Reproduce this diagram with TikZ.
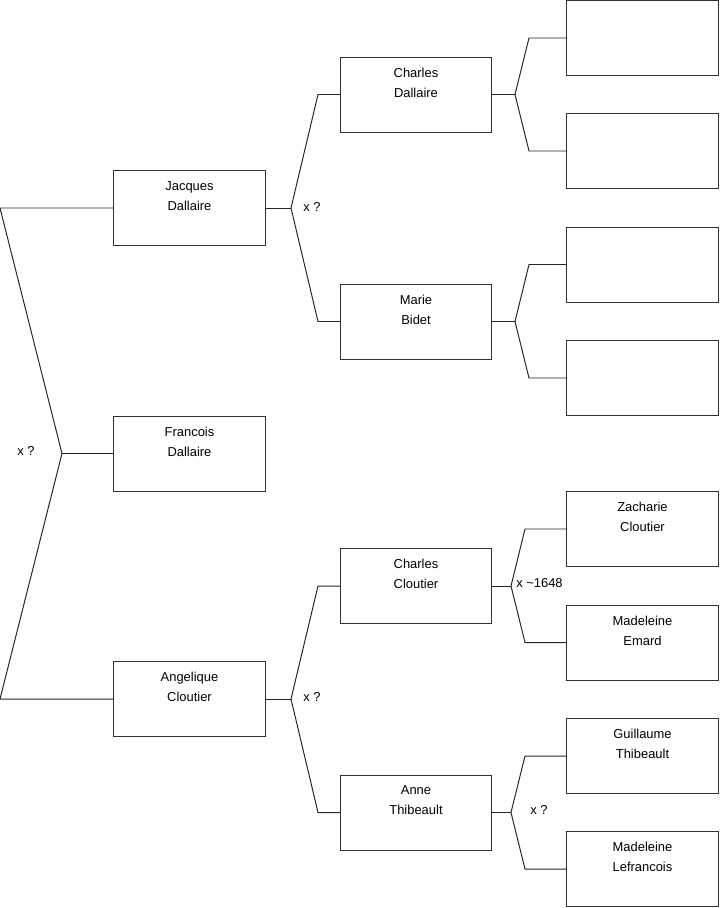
\documentclass[tikz,border=0pt]{standalone}
\usepackage{fontspec}
\setmainfont{Liberation Sans}
\tikzset{
  person/.style={draw=black!80, line width=0.7pt, minimum width=3.775cm, minimum height=1.875cm, inner sep=0pt, outer sep=0pt},
  namelabel/.style={anchor=north, align=center, inner sep=0pt, yshift=-0.265cm, font=\fontsize{9.2}{14.2}\selectfont},
  link/.style={line width=0.7pt, draw=black!85, line join=round},
  marriage/.style={font=\fontsize{9.2}{11}\selectfont, inner sep=0pt},
}
\begin{document}
\begin{tikzpicture}[x=0.025cm, y=-0.025cm]
\useasboundingbox (0,0) rectangle (719,908);
% generation 1
\node[person, label={[namelabel]north:Francois\\Dallaire}] (francois) at (189.5,453.5) {};
% generation 2
\node[person, label={[namelabel]north:Jacques\\Dallaire}] (jacques) at (189.5,208) {};
\node[person, label={[namelabel]north:Angelique\\Cloutier}] (angelique) at (189.5,699) {};
% generation 3
\node[person, label={[namelabel]north:Charles\\Dallaire}] (charlesd) at (416,94.5) {};
\node[person, label={[namelabel]north:Marie\\Bidet}] (marie) at (416,321.5) {};
\node[person, label={[namelabel]north:Charles\\Cloutier}] (charlesc) at (416,586) {};
\node[person, label={[namelabel]north:Anne\\Thibeault}] (anne) at (416,812.5) {};
% generation 4
\node[person] (cd1) at (642.5,38) {};
\node[person] (cd2) at (642.5,151) {};
\node[person] (mb1) at (642.5,264.5) {};
\node[person] (mb2) at (642.5,378) {};
\node[person, label={[namelabel]north:Zacharie\\Cloutier}] (zacharie) at (642.5,529) {};
\node[person, label={[namelabel]north:Madeleine\\Emard}] (emard) at (642.5,642.5) {};
\node[person, label={[namelabel]north:Guillaume\\Thibeault}] (guillaume) at (642.5,756) {};
\node[person, label={[namelabel]north:Madeleine\\Lefrancois}] (lefrancois) at (642.5,869) {};
% junctions
\coordinate (jfr) at (62,453.5);
\coordinate (jfrup) at (0,208);
\coordinate (jfrdn) at (0,699);
\coordinate (jja) at (291,208);
\coordinate (jjaup) at (318,94.5);
\coordinate (jjadn) at (318,321.5);
\coordinate (jan) at (291,699);
\coordinate (janup) at (318,586);
\coordinate (jandn) at (318,812.5);
\coordinate (jcd) at (515,94.5);
\coordinate (jcdup) at (529,38);
\coordinate (jcddn) at (529,151);
\coordinate (jmb) at (515,321.5);
\coordinate (jmbup) at (529,264.5);
\coordinate (jmbdn) at (529,378);
\coordinate (jcc) at (511,586);
\coordinate (jccup) at (525,529);
\coordinate (jccdn) at (525,642.5);
\coordinate (jat) at (511,812.5);
\coordinate (jatup) at (525,756);
\coordinate (jatdn) at (525,869);
% connectors
\draw[link] (francois.west) -- (jfr);
\draw[link] (jfr) -- (jfrup) -- (jacques.west);
\draw[link] (jfr) -- (jfrdn) -- (angelique.west);
\draw[link] (jacques.east) -- (jja);
\draw[link] (jja) -- (jjaup) -- (charlesd.west);
\draw[link] (jja) -- (jjadn) -- (marie.west);
\draw[link] (angelique.east) -- (jan);
\draw[link] (jan) -- (janup) -- (charlesc.west);
\draw[link] (jan) -- (jandn) -- (anne.west);
\draw[link] (charlesd.east) -- (jcd);
\draw[link] (jcd) -- (jcdup) -- (cd1.west);
\draw[link] (jcd) -- (jcddn) -- (cd2.west);
\draw[link] (marie.east) -- (jmb);
\draw[link] (jmb) -- (jmbup) -- (mb1.west);
\draw[link] (jmb) -- (jmbdn) -- (mb2.west);
\draw[link] (charlesc.east) -- (jcc);
\draw[link] (jcc) -- (jccup) -- (zacharie.west);
\draw[link] (jcc) -- (jccdn) -- (emard.west);
\draw[link] (anne.east) -- (jat);
\draw[link] (jat) -- (jatup) -- (guillaume.west);
\draw[link] (jat) -- (jatdn) -- (lefrancois.west);
% marriage notes
\node[marriage] (mfr) at (26,451) {x ?};
\node[marriage] (mja) at (312,207) {x ?};
\node[marriage] (man) at (312,697) {x ?};
\node[marriage] (mcc) at (539.5,583) {x \textasciitilde1648};
\node[marriage] (mat) at (539,810) {x ?};
\end{tikzpicture}
\end{document}
